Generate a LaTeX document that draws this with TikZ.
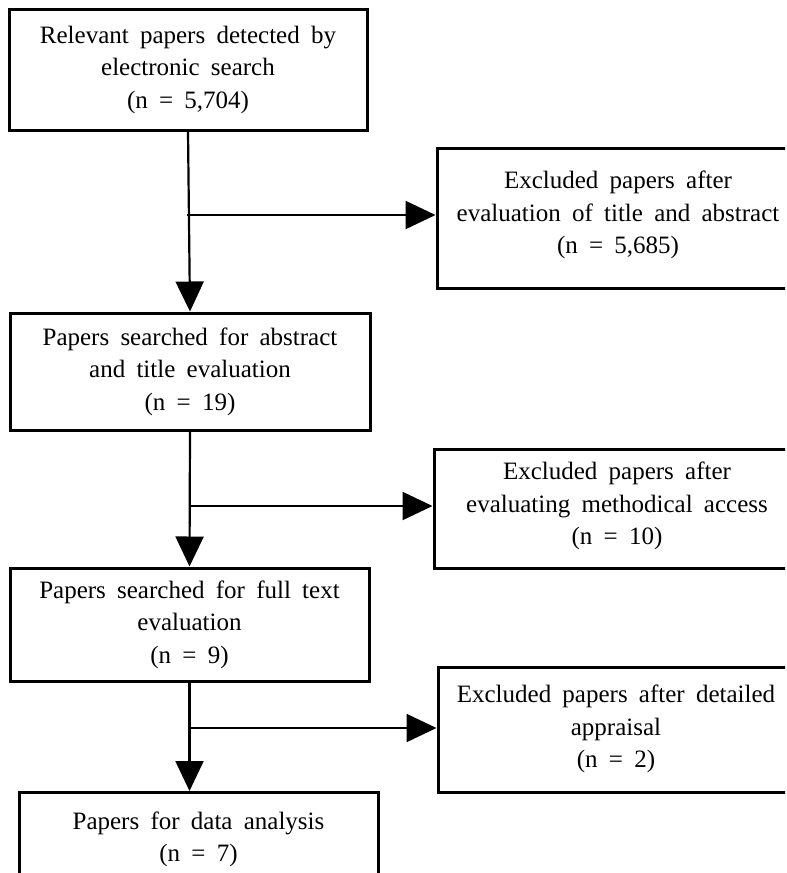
\documentclass[tikz,border=0pt]{standalone}
\usepackage{fontspec}
\setmainfont{Liberation Serif}
\usetikzlibrary{arrows.meta}
\newcommand\boxfnt{\fontsize{25}{32.5}\selectfont\spaceskip=0.45em plus 0.1em minus 0.05em\relax}
\begin{document}
\begin{tikzpicture}[x=1pt,y=-1pt,
  box/.style={draw=black,line width=3pt,rectangle,align=center,inner sep=0pt,
    font=\boxfnt},
  frame/.style={draw=black,line width=3pt,rectangle,inner sep=0pt},
  boxtext/.style={align=center,inner sep=0pt,font=\boxfnt},
  conn/.style={line width=2.2pt,-{Triangle[length=30pt,width=28pt]}}]
\useasboundingbox (0,0) rectangle (787,873);
\clip (0,0) rectangle (785,873);
\node[box,minimum width=358pt,minimum height=121pt] (b1) at (188,69.5)
  {Relevant papers detected by\\ electronic search\\ (n = 5,704)};
\node[frame,minimum width=373pt,minimum height=140pt] (x1) at (623.5,218) {};
\node[boxtext] (x1t) at (618,215)
  {Excluded papers after\\ evaluation of title and abstract\\ (n = 5,685)};
\node[box,minimum width=360pt,minimum height=117pt] (b2) at (190,371.5)
  {Papers searched for abstract\\ and title evaluation\\ (n = 19)};
\node[frame,minimum width=376pt,minimum height=119pt] (x2) at (622,508.5) {};
\node[boxtext] (x2t) at (617,506)
  {Excluded papers after\\ evaluating methodical access\\ (n = 10)};
\node[box,minimum width=359pt,minimum height=113pt] (b3) at (189.5,624.5)
  {Papers searched for full text\\ evaluation\\ (n = 9)};
\node[frame,minimum width=372pt,minimum height=125pt] (x3) at (624,729.5) {};
\node[boxtext] (x3t) at (616,729)
  {Excluded papers after detailed\\ appraisal\\ (n = 2)};
\node[box,minimum width=359pt,minimum height=94pt,anchor=north] (b4) at (198.5,791)
  {Papers for data analysis\\ (n = 7)};
\draw[conn] (b1.south) -- (b2.north);
\draw[conn] (b2.south) -- (b3.north);
\draw[conn] (b3.south) -- (b3.south |- b4.north);
\coordinate (j1) at (187,215);
\coordinate (j2) at (190,506);
\coordinate (j3) at (189,728);
\draw[conn] (j1) -- (j1 -| x1.west);
\draw[conn] (j2) -- (j2 -| x2.west);
\draw[conn] (j3) -- (j3 -| x3.west);
\end{tikzpicture}
\end{document}
